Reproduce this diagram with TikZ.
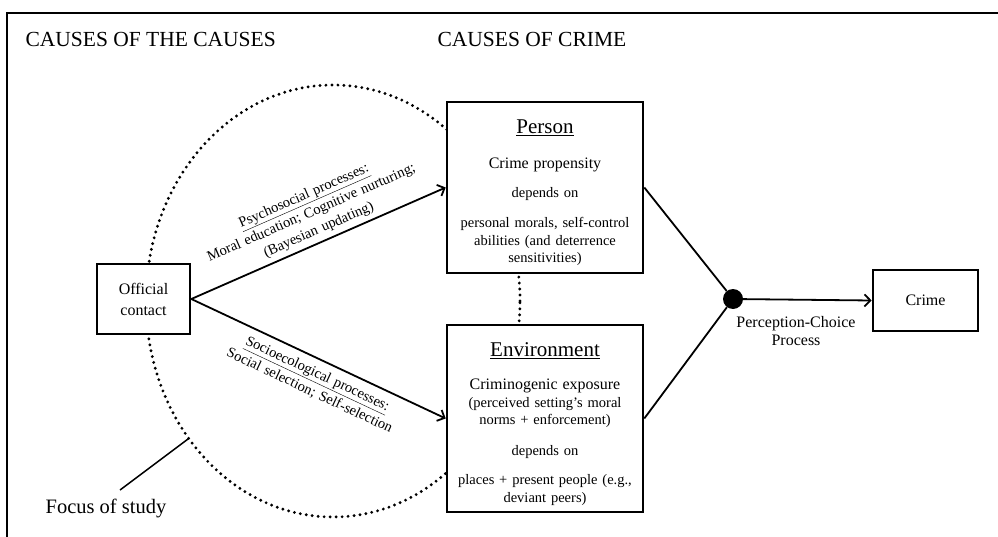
\documentclass[tikz,border=0pt]{standalone}
\usepackage{fontspec}
\setmainfont{Liberation Serif}
\usetikzlibrary{arrows.meta,positioning}

\begin{document}
\begin{tikzpicture}[x=1pt,y=-1pt,
    box/.style={draw, line width=2.6pt, fill=white, align=center, inner sep=4pt},
    link/.style={line width=1.8pt},
    flow/.style={link, -{Straight Barb[length=6pt,width=12pt,line width=1.8pt]}},
    dots/.style={line width=3.2pt, dash pattern=on 0pt off 6pt, line cap=round},
    headfont/.style={font=\fontsize{21.5}{25}\selectfont},
    textfont/.style={font=\fontsize{14.5}{17.5}\selectfont},
    pathfont/.style={font=\fontsize{14.5}{18.5}\selectfont, align=center}
]
    \useasboundingbox (0,0) rectangle (998,537);
    \draw[line width=2.6pt] (998,13) -- (7,13) -- (7,537); % frame

    \node[headfont, anchor=base west] (causescauses) at (22,47) {CAUSES OF THE CAUSES};
    \node[headfont, anchor=base west] (causescrime) at (434,47) {CAUSES OF CRIME};

    \draw[dots] (333,301) ellipse [x radius=187pt, y radius=216pt]; % focus of study

    \node[box, textfont, minimum width=196pt, minimum height=171pt, text width=186pt] (person) at (545,187.5)
        {{\fontsize{21}{24}\selectfont\underline{Person}\rule{0pt}{24pt}}\\[18pt]
         {\fontsize{16}{18}\selectfont Crime propensity}\\[11.5pt]
         depends on\\[12.5pt]
         personal morals, self-control\\abilities (and deterrence\\sensitivities)};
    \node[box, textfont, minimum width=196pt, minimum height=187pt, text width=186pt] (environment) at (545,418.5)
        {{\fontsize{21}{24}\selectfont\underline{Environment}\rule{0pt}{25pt}}\\[16pt]
         {\fontsize{16}{18}\selectfont Criminogenic exposure}\\
         (perceived setting’s moral\\norms + enforcement)\\[13pt]
         depends on\\[12pt]
         places + present people (e.g.,\\deviant peers)};
    \node[box, font=\fontsize{16}{21}\selectfont, minimum width=93pt, minimum height=70pt] (official) at (143.5,299) {Official\\contact};
    \node[box, font=\fontsize{16}{19}\selectfont, minimum width=105pt, minimum height=61pt] (crime) at (925.5,300.5) {Crime};
    \node[circle, fill, minimum size=20pt, inner sep=0pt] (choice) at (733,299) {};
    \node[font=\fontsize{16}{18}\selectfont, align=center, anchor=north] (choicelabel) at (796,313) {Perception-Choice\\Process};

    \node[font=\fontsize{20.5}{24}\selectfont] (focus) at (106,508) {Focus of study};
    \coordinate (focuspt) at (188,439);

    \draw[flow] (official.east) -- node[pathfont, text width=240pt, pos=0.52, sloped, above=1pt]
        {\underline{Psychosocial processes:}\\Moral education; Cognitive nurturing;\\(Bayesian updating)} (person.west);
    \draw[flow] (official.east) -- node[pathfont, text width=220pt, pos=0.52, sloped, below=4pt]
        {\underline{Socioecological processes:}\\Social selection; Self-selection} (environment.west);
    \draw[link] (person.east) -- (choice);
    \draw[link] (environment.east) -- (choice);
    \draw[flow] (choice) -- (crime.west);
    \draw[link, line width=1.5pt] ([xshift=14pt, yshift=5pt]focus.north) -- (focuspt);
\end{tikzpicture}
\end{document}
